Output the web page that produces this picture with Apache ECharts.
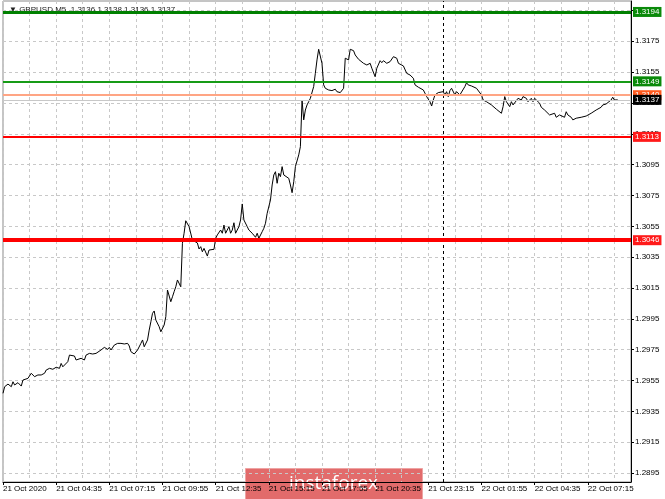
<!DOCTYPE html>
<html><head><meta charset="utf-8">
<script src="https://cdn.jsdelivr.net/npm/echarts@6/dist/echarts.min.js"></script>
<style>html,body{margin:0;padding:0;background:#fff}#c{width:665px;height:499px}</style>
</head><body><div id="c"></div>
<script>
// ---- data ----
const chartTitle = '\u25BC GBPUSD,M5  1.3136 1.3138 1.3136 1.3137';
const timeLabels = ['21 Oct 2020','21 Oct 04:35','21 Oct 07:15','21 Oct 09:55','21 Oct 12:35','21 Oct 15:15',
  '21 Oct 17:55','21 Oct 20:35','21 Oct 23:15','22 Oct 01:55','22 Oct 04:35','22 Oct 07:15'];
const barsPerLabel = 32;
const priceTicks = [1.2895,1.2915,1.2935,1.2955,1.2975,1.2995,1.3015,1.3035,1.3055,1.3075,1.3095,1.3115,1.3135,1.3155,1.3175,1.3195];
const daySeparatorBar = 265;

// M5 closes: bar index (from the left edge) and price
const barsMorning = [0,1,3,5,6,7,9,11,12,13,15,17,18,19,21,23,25,26,28,30,32,34,35,36,37,39,40,41,43,44,45,47,49,50,52,54,56,57,59,61,63,64,65,67,69,71,73,75,76,77,79,80,81,83,84,85,86,87];
const pricesMorning = [1.29467,1.29510,1.29527,1.29510,1.29542,1.29521,1.29536,1.29514,1.29553,1.29542,1.29564,1.29597,1.29586,1.29575,1.29586,1.29586,1.29597,1.29618,1.29629,1.29623,1.29636,1.29629,1.29661,1.29639,1.29629,1.29672,1.29715,1.29704,1.29709,1.29683,1.29672,1.29694,1.29683,1.29715,1.29726,1.29722,1.29726,1.29730,1.29748,1.29765,1.29752,1.29765,1.29748,1.29780,1.29791,1.29791,1.29787,1.29791,1.29774,1.29737,1.29722,1.29726,1.29748,1.29791,1.29813,1.29769,1.29759,1.29813];
const barsRally = [88,89,90,91,92,93,94,95,96,97,98,99,100,101,102,103,104,105,106,107,108,109,110,112,114,117,118,119,120,121,123,124,125,127,128,129,131,132,133,134,136,137,138,139,140,142,143,144,145,147,148,150,152,153,154,156,157,158,159,161,162,163,164,165,166,167,168,169,170,172,173,174,175,176,177,178,179];
const pricesRally = [1.29877,1.29931,1.29986,1.30001,1.29942,1.29953,1.29899,1.29866,1.29866,1.29910,1.29964,1.30137,1.30148,1.30061,1.30093,1.30126,1.30158,1.30202,1.30191,1.30158,1.30440,1.30505,1.30586,1.30548,1.30461,1.30442,1.30403,1.30418,1.30385,1.30407,1.30357,1.30396,1.30407,1.30401,1.30472,1.30494,1.30526,1.30505,1.30558,1.30505,1.30548,1.30505,1.30526,1.30573,1.30505,1.30548,1.30591,1.30695,1.30591,1.30548,1.30526,1.30505,1.30479,1.30505,1.30472,1.30515,1.30537,1.30570,1.30634,1.30721,1.30818,1.30883,1.30904,1.30829,1.30894,1.30872,1.30937,1.30883,1.30894,1.30861,1.30818,1.30768,1.30839,1.30937,1.30948,1.31013,1.31066];
const barsPeak = [180,181,182,183,184,185,187,188,189,190,191,192,193,194,196,198,200,201,202,203,204,205,206,207,208,209,211,212,213,214,215,217,218,219,221,222,223,224,225,227,228,229,231,233,234,235,237,238,239,241,242,243,245,247,248,250,251,253,254,255,257,258,259,260,262,263];
const pricesPeak = [1.31369,1.31240,1.31304,1.31337,1.31358,1.31380,1.31456,1.31542,1.31629,1.31698,1.31698,1.31607,1.31467,1.31445,1.31434,1.31430,1.31439,1.31423,1.31434,1.31417,1.31408,1.31445,1.31640,1.31650,1.31629,1.31698,1.31689,1.31661,1.31668,1.31633,1.31640,1.31607,1.31618,1.31596,1.31607,1.31575,1.31564,1.31520,1.31575,1.31624,1.31611,1.31624,1.31607,1.31618,1.31607,1.31650,1.31640,1.31607,1.31618,1.31590,1.31596,1.31542,1.31531,1.31510,1.31467,1.31452,1.31445,1.31434,1.31413,1.31391,1.31358,1.31330,1.31369,1.31402,1.31417,1.31408];
const barsNight = [265,266,267,268,269,270,272,273,275,276,278,279,280,282,283,285,286,288,289,291,292,294,295,297,298,300,301,302,303,304,305,306,307,309,310,312,313,315,316,318,319,320,321,323,324,326,327,329,330,332,333,335,336,338,339,340,342,343,345,346,348,349,351,352,354,355,357,358,360,361,363,364,366,367,368,369,370];
const pricesNight = [1.31423,1.31402,1.31423,1.31391,1.31430,1.31445,1.31402,1.31423,1.31402,1.31413,1.31456,1.31481,1.31467,1.31460,1.31456,1.31445,1.31434,1.31402,1.31369,1.31358,1.31348,1.31337,1.31326,1.31309,1.31300,1.31283,1.31326,1.31391,1.31358,1.31369,1.31326,1.31358,1.31337,1.31365,1.31380,1.31369,1.31391,1.31380,1.31358,1.31380,1.31358,1.31380,1.31374,1.31348,1.31322,1.31304,1.31293,1.31272,1.31265,1.31283,1.31257,1.31272,1.31283,1.31257,1.31293,1.31272,1.31257,1.31240,1.31251,1.31244,1.31257,1.31251,1.31265,1.31272,1.31283,1.31293,1.31304,1.31309,1.31322,1.31337,1.31343,1.31352,1.31369,1.31387,1.31369,1.31374,1.31370];

// horizontal levels
const levelValues = [1.3194, 1.3149, 1.3140, 1.3137, 1.3113, 1.3046];

// ---- build ----
const bars = barsMorning.concat(barsRally, barsPeak, barsNight);
const prices = pricesMorning.concat(pricesRally, pricesPeak, pricesNight);
const seriesData = bars.map((b, i) => [b, prices[i]]);

const levelStyles = [
  {line: '#008000', width: 3, box: '#0a8a0a'},
  {line: '#169b16', width: 2, box: '#0a8a0a'},
  {line: '#ffa584', width: 2, box: '#ff5a1e'},
  {line: '#c8c8c8', width: 1, box: '#000000'},
  {line: '#ff0000', width: 2, box: '#ff1a1a'},
  {line: '#ff0000', width: 4, box: '#ff1a1a'}
];
const FONT = 'Liberation Sans, Arial, sans-serif';
const levelMarks = levelValues.map((v, i) => ({
  yAxis: v,
  lineStyle: {color: levelStyles[i].line, width: levelStyles[i].width, type: 'solid'},
  label: {
    show: true, position: 'end', distance: 2,
    formatter: () => v.toFixed(4),
    backgroundColor: levelStyles[i].box, color: '#fff',
    fontSize: 8, fontFamily: FONT, lineHeight: 9, padding: [1, 2, 0, 2]
  }
}));
const separatorMark = [{
  xAxis: daySeparatorBar,
  lineStyle: {color: '#000', width: 1, type: [3, 3]},
  label: {show: false}
}];

const gridLine = {color: '#c8c8c8', width: 1, type: [3, 3]};
const chart = echarts.init(document.getElementById('c'), null, {renderer: 'canvas'});
chart.setOption({
  animation: false,
  backgroundColor: '#fff',
  title: {
    text: chartTitle, left: 4, top: 1, z: 1,
    textStyle: {fontSize: 8, fontWeight: 'normal', color: '#222', fontFamily: FONT}
  },
  grid: {left: 2, right: 34, top: 1, bottom: 17, show: true, borderColor: '#8a8a8a', borderWidth: 1},
  xAxis: {
    type: 'value', min: 0, max: 378, interval: barsPerLabel,
    axisLine: {show: true, onZero: false, lineStyle: {color: '#000', width: 1}},
    axisTick: {show: true, length: 3, lineStyle: {color: '#000'}},
    axisLabel: {
      show: true, align: 'left', margin: 3, fontSize: 8, color: '#000', fontFamily: FONT,
      showMaxLabel: false,
      formatter: v => timeLabels[Math.round(v / barsPerLabel)] || ''
    },
    splitLine: {show: true, lineStyle: gridLine},
    minorTick: {show: false, splitNumber: 2},
    minorSplitLine: {show: true, lineStyle: gridLine}
  },
  yAxis: {
    type: 'value', position: 'right', min: 1.28892, max: 1.32011,
    axisLine: {show: true, onZero: false, lineStyle: {color: '#000', width: 1}},
    axisTick: {show: true, length: 3, customValues: priceTicks, lineStyle: {color: '#000'}},
    axisLabel: {
      show: true, customValues: priceTicks, margin: 4, fontSize: 8, color: '#000', fontFamily: FONT,
      formatter: v => Number(v).toFixed(4)
    },
    splitLine: {show: true, lineStyle: gridLine}
  },
  series: [
    {
      type: 'line', data: seriesData, showSymbol: false, symbol: 'none',
      lineStyle: {color: '#000', width: 1}, z: 3, silent: true,
      markLine: {symbol: ['none', 'none'], silent: true, animation: false, precision: 5, data: separatorMark}
    },
    {
      type: 'line', data: seriesData, showSymbol: false, symbol: 'none', z: 5, silent: true,
      lineStyle: {opacity: 0, width: 0},
      markLine: {symbol: ['none', 'none'], silent: true, animation: false, precision: 5, data: levelMarks}
    }
  ],
  graphic: [{
    type: 'group', left: 245, top: 468, z: 100,
    children: [
      {type: 'rect', shape: {x: 0, y: 0, width: 177, height: 31}, style: {fill: '#e26b6b', stroke: '#eea3a3', lineWidth: 1}},
      {type: 'text', style: {text: 'instaforex', x: 88, y: 15, fill: '#fff', fontSize: 19, fontFamily: 'Open Sans, sans-serif', align: 'center', verticalAlign: 'middle'}}
    ]
  }]
});
</script>
</body></html>
